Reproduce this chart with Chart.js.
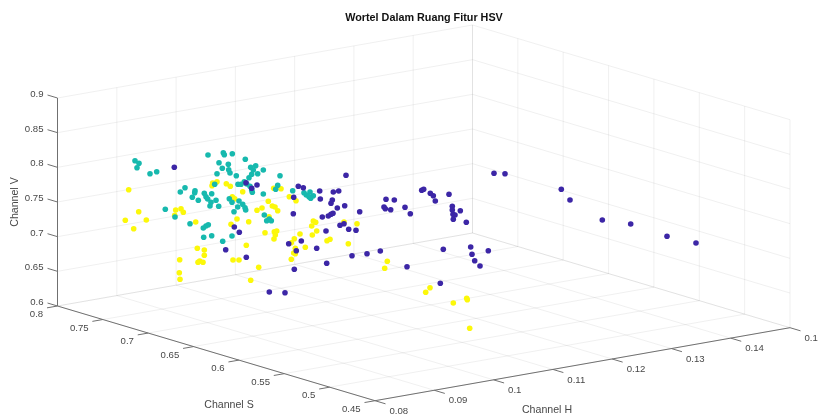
<!DOCTYPE html>
<html>
<head>
<meta charset="utf-8">
<title>Wortel Dalam Ruang Fitur HSV</title>
<script src="https://cdn.jsdelivr.net/npm/chart.js@4"></script>
<style>
  html, body { margin: 0; padding: 0; background: #fff; }
  canvas { display: block; }
</style>
</head>
<body>
<canvas id="chart" width="818" height="414"></canvas>
<script>
const TITLE = "Wortel Dalam Ruang Fitur HSV";
const H_TICKS = [0.08, 0.09, 0.1, 0.11, 0.12, 0.13, 0.14, 0.15];
const S_TICKS = [0.45, 0.5, 0.55, 0.6, 0.65, 0.7, 0.75, 0.8];
const V_TICKS = [0.6, 0.65, 0.7, 0.75, 0.8, 0.85, 0.9];
const H_LABELS = ["0.08", "0.09", "0.1", "0.11", "0.12", "0.13", "0.14", "0.15"];
const S_LABELS = ["0.45", "0.5", "0.55", "0.6", "0.65", "0.7", "0.75", "0.8"];
const V_LABELS = ["0.6", "0.65", "0.7", "0.75", "0.8", "0.85", "0.9"];

// the plot is a 3D view, so the points are read as they appear on the view plane
const yellowX = [128.7, 212.7, 217, 212, 226.3, 230.3, 232.3, 234.7, 175.7, 181, 183.3, 174.7, 138.7, 125.3, 146.3, 133.7, 195.7, 237, 231, 242.7, 273.7, 281, 289.3, 296, 268.3, 272.3, 275, 277.7, 262, 257, 269, 248.7, 265, 274.3, 276.7, 300, 313.3, 315.7, 311.7, 316.7, 344, 357, 312.3, 197.3, 204.3, 204.3, 179.7, 199.7, 198, 203, 233, 239, 179.3, 180, 275.3, 274, 294.3, 291.3, 246.3, 295.3, 305.3, 293.7, 295.3, 327, 330, 348.3, 291.3, 258.7, 250.7, 387.3, 384.7, 430, 425.7, 453.3, 466.7, 467.3, 469.7];
const yellowY = [189.7, 183, 181.7, 185.7, 183.7, 186.3, 196.7, 198.7, 210, 208.7, 212.3, 215.3, 211.7, 220.3, 220, 228.7, 222, 219, 224.3, 191.7, 188.3, 188.7, 196.7, 200.7, 201.3, 206, 207, 210.7, 208, 210.3, 216.7, 221.7, 232.7, 231.7, 231, 234, 221, 222.3, 226, 231, 222, 223.7, 235, 248.3, 250, 255.3, 259.7, 261, 262.3, 262.3, 260, 260, 272.7, 279.3, 235, 239, 238.7, 242.7, 245.3, 248.3, 247.3, 253, 253.7, 240.7, 239.3, 243.7, 259.3, 267.3, 280.3, 261.3, 268.3, 287.7, 292.3, 303, 298.3, 299.7, 328.3];

const tealX = [135, 139, 137, 150, 156.7, 208, 223.3, 224.3, 232.3, 219, 228.3, 222.3, 228.7, 230, 217, 236.3, 214.7, 238, 185, 180.3, 195, 194.7, 192.3, 204.3, 211.7, 206, 207.7, 198.3, 216, 211, 210, 218.7, 229.3, 232, 239, 237.7, 234, 165.3, 175, 190, 208.3, 206, 203.3, 245.3, 250.7, 255.7, 253.3, 263.3, 257.7, 251.7, 249, 280, 244.3, 241, 246.7, 250, 251.7, 252.3, 277.7, 275.7, 263.3, 292.7, 304, 310, 306.3, 313.3, 309, 310.7, 242.7, 245, 245.7, 264.3, 269.3, 266.7, 271.3, 203.7, 211.7, 222.7, 232];
const tealY = [160.7, 163.3, 167.7, 173.7, 171.7, 155, 152.7, 154.7, 153.7, 162.7, 164.3, 168.3, 169.7, 173, 173.7, 175.7, 184.3, 184.3, 187.7, 192, 190.7, 192.7, 197.3, 193.3, 193.7, 196.7, 199, 200.3, 200.3, 202.3, 206, 206.3, 198.7, 202.3, 201, 207, 211.7, 209.3, 217, 223.7, 224.7, 226, 228, 159.3, 167.3, 165.7, 170, 170, 173.7, 174.3, 177.7, 175.7, 181.7, 184.3, 184, 186.3, 190, 192.3, 185.3, 189.3, 194, 190.7, 192.7, 192, 195, 195.7, 196.7, 198.3, 204.3, 207.7, 210, 215, 219, 220.7, 220.7, 237.3, 235.7, 241.3, 236];

const purpleX = [174.3, 234.3, 239.3, 346, 246, 257, 251.7, 298.3, 303.3, 319.7, 293.7, 333.3, 338.7, 320.3, 332.3, 331, 337.3, 344.7, 359.7, 293.3, 322.3, 328.3, 331, 333, 340, 344, 326, 348.7, 356, 225.7, 301.3, 288.7, 296.3, 316.7, 246.3, 352, 326.7, 294.3, 269.3, 285, 494, 421.7, 423.7, 430.3, 433.3, 435.3, 449, 386, 394.3, 384, 385.3, 390.7, 405, 410.3, 452.3, 452.3, 460.3, 453, 455, 453.3, 466.3, 367, 380.3, 407, 443.3, 470.7, 472, 488.3, 474.7, 480, 440.3, 505, 561.3, 570, 602.3, 630.7, 667, 696];
const purpleY = [167.3, 227, 232.3, 175.3, 182.7, 185, 188.3, 186.3, 187.7, 191, 197.3, 192, 191, 199, 200, 203.3, 208, 205.7, 211.7, 213.7, 217, 216, 214.3, 213.3, 225.3, 223.7, 231, 229.3, 230.3, 249.7, 241, 243.7, 250.7, 248.3, 257.3, 255.7, 263.3, 269.3, 292, 292.7, 173.3, 190.3, 189.3, 193.3, 195.7, 201, 194.3, 199.3, 200, 207, 208.7, 209.7, 207.3, 213.7, 206.3, 210, 210.7, 214.3, 215, 219.3, 222.3, 253.7, 251, 266.7, 249.3, 247, 254.3, 250.7, 260.7, 266, 283.3, 173.7, 189.3, 200, 220, 224, 236.3, 243];

const TEXT_COLOR = "#484848";
const AXIS_COLOR = "#707070";
const GRID_COLOR = "rgba(38,38,38,0.07)";
const FONT = '"Liberation Sans", Arial, sans-serif';

const H_MIN = H_TICKS[0], H_MAX = H_TICKS[H_TICKS.length - 1];
const S_MIN = S_TICKS[0], S_MAX = S_TICKS[S_TICKS.length - 1];
const V_MIN = V_TICKS[0], V_MAX = V_TICKS[V_TICKS.length - 1];

// orthographic view of the HSV box, taken from its corners in the picture
function project(h, s, v) {
  const a = (h - H_MIN) / (H_MAX - H_MIN);
  const b = (s - S_MIN) / (S_MAX - S_MIN);
  const c = (v - V_MIN) / (V_MAX - V_MIN);
  return {
    x: 375 + 415 * a - 317.5 * b,
    y: 400.7 - 73 * a - 94.7 * b - 208 * c,
  };
}

function toPoints(xs, ys) {
  return xs.map((x, i) => ({ x, y: ys[i] }));
}

// one dataset holds many segments, NaN breaks the line between them
function addSegment(list, from, to) {
  list.push(project(...from), project(...to), { x: NaN, y: NaN });
}

const gridLines = [];
H_TICKS.forEach((h) => {
  addSegment(gridLines, [h, S_MIN, V_MIN], [h, S_MAX, V_MIN]);
  addSegment(gridLines, [h, S_MAX, V_MIN], [h, S_MAX, V_MAX]);
});
S_TICKS.forEach((s) => {
  addSegment(gridLines, [H_MIN, s, V_MIN], [H_MAX, s, V_MIN]);
  addSegment(gridLines, [H_MAX, s, V_MIN], [H_MAX, s, V_MAX]);
});
V_TICKS.forEach((v) => {
  addSegment(gridLines, [H_MIN, S_MAX, v], [H_MAX, S_MAX, v]);
  addSegment(gridLines, [H_MAX, S_MIN, v], [H_MAX, S_MAX, v]);
});

const axisLines = [];
addSegment(axisLines, [H_MIN, S_MAX, V_MIN], [H_MIN, S_MAX, V_MAX]);
addSegment(axisLines, [H_MIN, S_MIN, V_MIN], [H_MIN, S_MAX, V_MIN]);
addSegment(axisLines, [H_MIN, S_MIN, V_MIN], [H_MAX, S_MIN, V_MIN]);
V_TICKS.forEach((v) => addSegment(axisLines, [H_MIN, S_MAX, v], [H_MIN, S_MAX + 0.011, v]));
S_TICKS.forEach((s) => addSegment(axisLines, [H_MIN, s, V_MIN], [H_MIN - 0.00177, s, V_MIN]));
H_TICKS.forEach((h) => addSegment(axisLines, [h, S_MIN, V_MIN], [h, S_MIN - 0.0116, V_MIN]));

const textPlugin = {
  id: "axisText",
  afterDraw(chart) {
    const { ctx, scales } = chart;
    const put = (text, x, y, align, font) => {
      ctx.font = font;
      ctx.textAlign = align;
      ctx.fillText(text, x, y);
    };
    const tickFont = `9.6px ${FONT}`;
    const labelFont = `10.6px ${FONT}`;
    const px = (p) => scales.x.getPixelForValue(p.x);
    const py = (p) => scales.y.getPixelForValue(p.y);

    ctx.save();
    ctx.fillStyle = TEXT_COLOR;
    ctx.textBaseline = "middle";
    V_TICKS.forEach((v, i) => {
      const p = project(H_MIN, S_MAX, v);
      put(V_LABELS[i], px(p) - 14, py(p) - 3.7, "right", tickFont);
    });
    S_TICKS.forEach((s, i) => {
      const p = project(H_MIN, s, V_MIN);
      put(S_LABELS[i], px(p) - 14.3, py(p) + 8.5, "right", tickFont);
    });
    H_TICKS.forEach((h, i) => {
      const p = project(h, S_MIN, V_MIN);
      put(H_LABELS[i], px(p) + 14.5, py(p) + 10.5, "left", tickFont);
    });
    put("Channel S", 229, 405.5, "center", labelFont);
    put("Channel H", 547, 410.5, "center", labelFont);
    ctx.save();
    ctx.translate(15.5, 202);
    ctx.rotate(-Math.PI / 2);
    put("Channel V", 0, 0, "center", labelFont);
    ctx.restore();
    ctx.fillStyle = "#111111";
    put(TITLE, 424, 18.5, "center", `bold 10.8px ${FONT}`);
    ctx.restore();
  },
};

function dots(label, xs, ys, color, order) {
  return {
    label,
    data: toPoints(xs, ys),
    backgroundColor: color,
    borderColor: color,
    pointRadius: 2.8,
    pointBorderWidth: 0,
    showLine: false,
    order,
  };
}

function lines(label, data, color, order) {
  return {
    label,
    data,
    borderColor: color,
    borderWidth: 1,
    pointRadius: 0,
    showLine: true,
    spanGaps: false,
    order,
  };
}

new Chart(document.getElementById("chart"), {
  type: "scatter",
  data: {
    datasets: [
      lines("grid", gridLines, GRID_COLOR, 5),
      lines("axes", axisLines, AXIS_COLOR, 4),
      dots("yellow", yellowX, yellowY, "#fcf80a", 3),
      dots("teal", tealX, tealY, "#17b9ae", 2),
      dots("purple", purpleX, purpleY, "#3c26a6", 1),
    ],
  },
  options: {
    responsive: false,
    animation: false,
    layout: { padding: 0, autoPadding: false },
    plugins: { legend: { display: false }, title: { display: false }, tooltip: { enabled: false } },
    scales: {
      x: { type: "linear", min: 0, max: 818, display: false },
      y: { type: "linear", min: 0, max: 414, reverse: true, display: false },
    },
  },
  plugins: [textPlugin],
});
</script>
</body>
</html>
